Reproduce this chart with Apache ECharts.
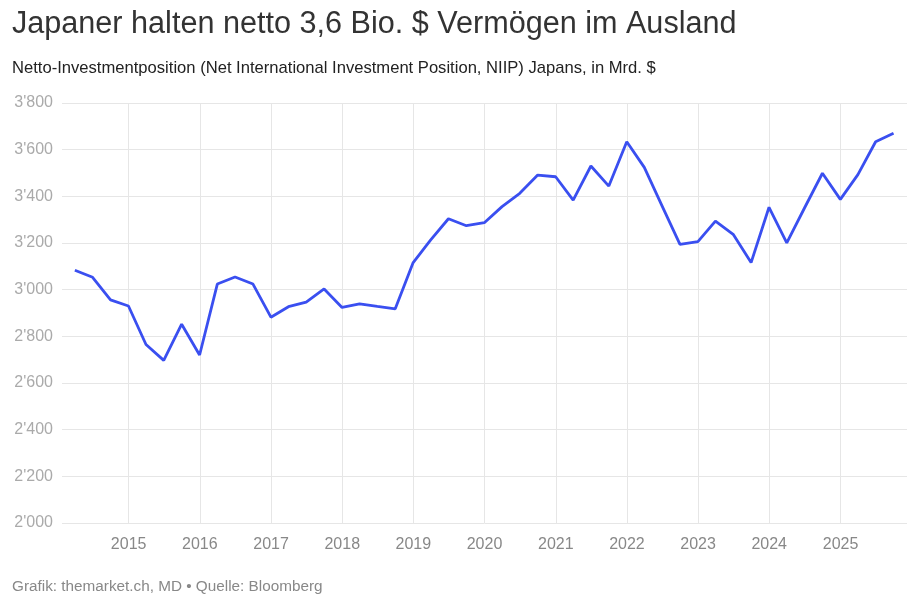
<!DOCTYPE html>
<html><head><meta charset="utf-8">
<script src="https://cdn.jsdelivr.net/npm/echarts@6/dist/echarts.min.js"></script>
<style>html,body{margin:0;padding:0;background:#fff}#c{width:920px;height:611px}</style>
</head><body><div id="c"></div>
<script>
const dates = [
 '2014-03-31','2014-06-30','2014-09-30','2014-12-31',
 '2015-03-31','2015-06-30','2015-09-30','2015-12-31',
 '2016-03-31','2016-06-30','2016-09-30','2016-12-31',
 '2017-03-31','2017-06-30','2017-09-30','2017-12-31',
 '2018-03-31','2018-06-30','2018-09-30','2018-12-31',
 '2019-03-31','2019-06-30','2019-09-30','2019-12-31',
 '2020-03-31','2020-06-30','2020-09-30','2020-12-31',
 '2021-03-31','2021-06-30','2021-09-30','2021-12-31',
 '2022-03-31','2022-06-30','2022-09-30','2022-12-31',
 '2023-03-31','2023-06-30','2023-09-30','2023-12-31',
 '2024-03-31','2024-06-30','2024-09-30','2024-12-31',
 '2025-03-31','2025-06-30','2025-09-30'
];
const niip = [
 3083, 3053, 2956, 2930,
 2765, 2697, 2852, 2720,
 3024, 3054, 3024, 2882,
 2927, 2947, 3003, 2924,
 2939, 2928, 2918, 3116,
 3213, 3304, 3274, 3287,
 3356, 3413, 3491, 3484,
 3384, 3530, 3444, 3634,
 3524, 3359, 3194, 3206,
 3294, 3237, 3116, 3353,
 3201, 3350, 3499, 3387,
 3493, 3634, 3670
];
const yearTicks = ['2015','2016','2017','2018','2019','2020','2021','2022','2023','2024','2025'];
const yTicks = {min: 2000, max: 3800, step: 200};
const title = 'Japaner halten netto 3,6 Bio. $ Vermögen im Ausland';
const subtitle = 'Netto-Investmentposition (Net International Investment Position, NIIP) Japans, in Mrd. $';
const source = 'Grafik: themarket.ch, MD • Quelle: Bloomberg';

const chart = echarts.init(document.getElementById('c'));
const fmtY = v => { const t = Math.floor(v/1000); const r = String(v%1000).padStart(3,'0'); return t + "'" + r; };
const grid = '#e6e6e6';
chart.setOption({
  animation: false,
  textStyle: {fontFamily: 'Liberation Sans, Arial, sans-serif'},
  graphic: [
    {type:'text', left: 12, top: 9, style:{text: title, font: '30.6px "Liberation Sans", Arial, sans-serif', fill:'#333'}},
    {type:'text', left: 12, top: 60, style:{text: subtitle, font: '16.6px "Liberation Sans", Arial, sans-serif', fill:'#222'}},
    {type:'text', left: 12, top: 579, style:{text: source, font: '15.3px "Liberation Sans", Arial, sans-serif', fill:'#888'}}
  ],
  grid: {left: 62, right: 13, top: 103, bottom: 88, containLabel: false},
  xAxis: {
    type: 'time',
    min: '2014-01-24', max: '2025-12-08',
    axisLine: {show: false}, axisTick: {show: false},
    axisLabel: {formatter: '{yyyy}', color:'#888', fontSize: 16, margin: 14,
      customValues: yearTicks.map(y => y + '-01-01')},
    splitLine: {show: false}
  },
  yAxis: {
    type: 'value', min: yTicks.min, max: yTicks.max, interval: yTicks.step,
    axisLine: {show: false}, axisTick: {show: false},
    axisLabel: {formatter: fmtY, color:'#aaa', fontSize: 16, margin: 9},
    splitLine: {lineStyle: {color: grid, width: 1}}
  },
  series: [{
    type: 'line', data: dates.map((d,i)=>[d, niip[i]]),
    showSymbol: false, lineStyle: {color:'#3a4ff0', width: 2.8}, itemStyle:{color:'#3a4ff0'},
    z: 3,
    markLine: {
      silent: true, symbol: 'none', label: {show: false}, z: 1,
      lineStyle: {color: grid, width: 1, type: 'solid'},
      emphasis: {disabled: true},
      data: yearTicks.map(y => ({xAxis: y + '-01-01'}))
    }
  }]
});
</script></body></html>
